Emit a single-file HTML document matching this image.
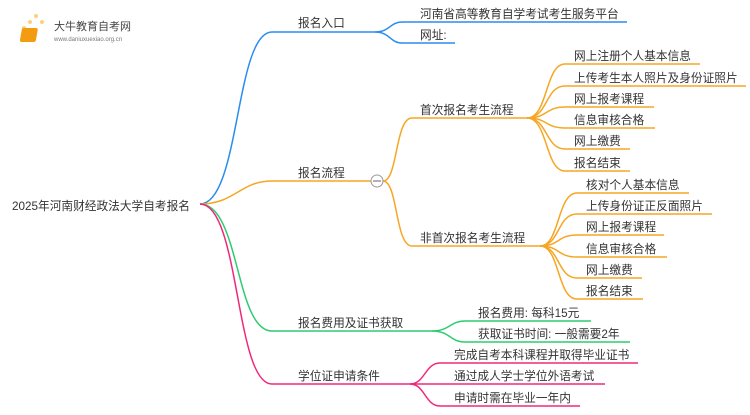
<!DOCTYPE html>
<html><head><meta charset="utf-8"><style>
body{margin:0;background:#fff;}
svg text{font-family:"Liberation Sans","Noto Sans CJK SC",sans-serif;font-size:11.7px;fill:#333;}
</style></head><body>
<svg width="750" height="410" viewBox="0 0 750 410" xmlns="http://www.w3.org/2000/svg">
<g fill="none" stroke-width="1.5">
<path d="M200 204 C240 204,235 32,272 32 L375 32" stroke="#2b8cf0"/>
<path d="M375 32 C390 32,390 22,402 22 L627 22" stroke="#2b8cf0"/>
<path d="M375 32 C390 32,390 43,402 43 L455 43" stroke="#2b8cf0"/>
<g stroke="#f5a623">
<path d="M200 204 C235 204,240 181,272 181 L371 181"/>
<path d="M383 181 C398 181,395 118,412 118 L527 118"/>
<path d="M383 181 C398 181,395 246,412 246 L540 246"/>
<path d="M527 118 C548 118,545 64,565 64 L700 64"/>
<path d="M527 118 C548 118,545 86,565 86 L746 86"/>
<path d="M527 118 C548 118,545 107,565 107 L654 107"/>
<path d="M527 118 C548 118,545 128,565 128 L655 128"/>
<path d="M527 118 C548 118,545 149,565 149 L630 149"/>
<path d="M527 118 C548 118,545 171,565 171 L630 171"/>
<path d="M540 246 C560 246,557 193,577 193 L689 193"/>
<path d="M540 246 C560 246,557 214,577 214 L712 214"/>
<path d="M540 246 C560 246,557 235,577 235 L664 235"/>
<path d="M540 246 C560 246,557 257,577 257 L667 257"/>
<path d="M540 246 C560 246,557 278,577 278 L642 278"/>
<path d="M540 246 C560 246,557 299,577 299 L643 299"/>
</g>
<circle cx="377" cy="181" r="6" stroke="#999" stroke-width="1" fill="#fff"/>
<line x1="373" y1="181" x2="381" y2="181" stroke="#666" stroke-width="1"/>
<g stroke="#2ecc71">
<path d="M200 204 C240 204,235 331,272 331 L432 331"/>
<path d="M432 331 C450 331,450 321,465 321 L591 321"/>
<path d="M432 331 C450 331,450 342,465 342 L630 342"/>
</g>
<g stroke="#f0287a">
<path d="M200 204 C240 204,235 384,272 384 L410 384"/>
<path d="M410 384 C425 384,425 363,440 363 L638 363"/>
<path d="M410 384 L605 384"/>
<path d="M410 384 C425 384,425 406,440 406 L580 406"/>
</g>
</g>
<g>
<circle cx="30" cy="22" r="2" fill="#fbd27a"/><circle cx="36" cy="16" r="2" fill="#fbd27a"/><circle cx="24" cy="28" r="2" fill="#fbd27a"/><circle cx="42" cy="22" r="2" fill="#fbd27a"/>
<rect x="27" y="28" width="16" height="14" rx="2" fill="#f39c12" transform="skewX(-10)"/>
<text x="54" y="30" style="font-size:11px;fill:#444">大牛教育自考网</text>
<text x="54" y="41" style="font-size:6px;fill:#777">www.daniuxuexiao.org.cn</text>
</g>
<text x="12" y="210">2025年河南财经政法大学自考报名</text>
<text x="298" y="27">报名入口</text>
<text x="420" y="18">河南省高等教育自学考试考生服务平台</text>
<text x="420" y="39">网址:</text>
<text x="298" y="177">报名流程</text>
<text x="420" y="114">首次报名考生流程</text>
<text x="420" y="242">非首次报名考生流程</text>
<text x="574" y="60">网上注册个人基本信息</text>
<text x="574" y="82">上传考生本人照片及身份证照片</text>
<text x="574" y="103">网上报考课程</text>
<text x="574" y="124">信息审核合格</text>
<text x="574" y="145">网上缴费</text>
<text x="574" y="167">报名结束</text>
<text x="586" y="189">核对个人基本信息</text>
<text x="586" y="210">上传身份证正反面照片</text>
<text x="586" y="231">网上报考课程</text>
<text x="586" y="253">信息审核合格</text>
<text x="586" y="274">网上缴费</text>
<text x="586" y="295">报名结束</text>
<text x="298" y="327">报名费用及证书获取</text>
<text x="478" y="317">报名费用: 每科15元</text>
<text x="478" y="338">获取证书时间: 一般需要2年</text>
<text x="298" y="380">学位证申请条件</text>
<text x="454" y="359">完成自考本科课程并取得毕业证书</text>
<text x="454" y="380">通过成人学士学位外语考试</text>
<text x="454" y="402">申请时需在毕业一年内</text>
</svg>
</body></html>
